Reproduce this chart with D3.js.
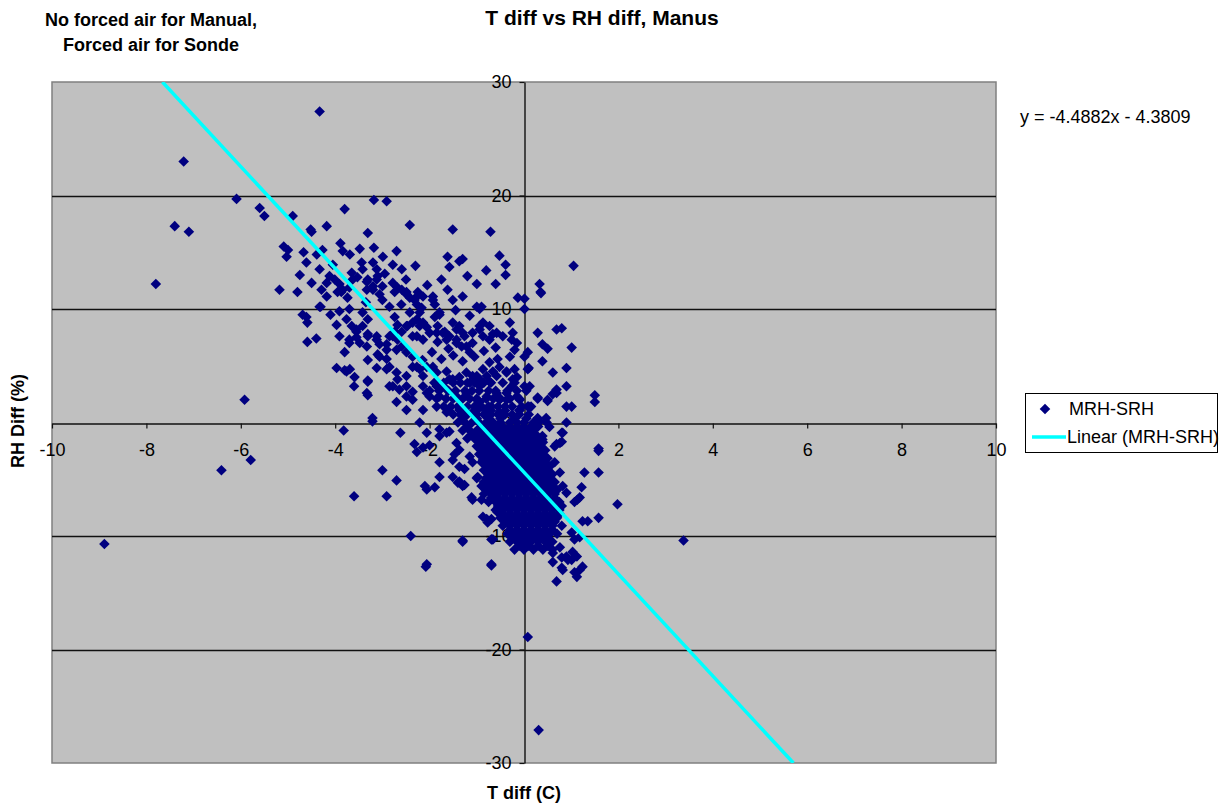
<!DOCTYPE html>
<html>
<head>
<meta charset="utf-8">
<script src="https://cdn.jsdelivr.net/npm/d3@7"></script>
<style>
  body { margin: 0; background: #fff; }
  svg text { font-family: Arial, "Liberation Sans", sans-serif; fill: #000; }
</style>
</head>
<body>
<div id="chart"></div>
<script>
// chart text
const title = "T diff vs RH diff, Manus";
const noteLines = ["No forced air for Manual,", "Forced air for Sonde"];
const xTitle = "T diff (C)";
const yTitle = "RH Diff (%)";
const seriesName = "MRH-SRH";
const trendName = "Linear (MRH-SRH)";

// axis ticks
const xTicks = [-10, -8, -6, -4, -2, 0, 2, 4, 6, 8, 10];
const yTicks = [-30, -20, -10, 0, 10, 20, 30];
const gridValues = [-20, -10, 10, 20];

// trendline y = slope * x + intercept (as printed on the chart)
const slope = -4.4882;
const intercept = -4.3809;

// scattered outliers [T diff, RH diff]
const outlierPoints = [
  [-4.33,27.4],[-7.21,23.0],[-7.4,17.3],[-7.1,16.8],[-7.8,12.2],[-8.89,-10.7],[-6.09,19.7],[-5.6,18.9],
  [-5.5,18.2],[-5.92,2.0],[-6.41,-4.2],[-5.79,-3.3],[-3.82,-0.7],[-3.6,-6.5],[-2.91,-6.5],[-2.4,-10.0],
  [-2.08,-12.7],[-1.3,-10.4],[-0.69,-12.6],[0.08,-18.9],[0.31,-27.1],[3.38,-10.4],[1.05,13.8],[1.5,2.4],
  [1.5,1.8],[1.58,-2.3],[1.98,-7.2],[-3.0,-4.2],[-2.7,-5.1],[-2.62,-0.9],[-2.06,-12.5],[-0.69,-12.5]
];

// upper-left cloud
const upperCloud = [
  [-3.18,19.6],[-2.91,19.5],[-3.8,18.8],[-4.9,18.2],[-4.52,17.0],[-4.5,16.8],[-4.18,17.3],[-3.31,16.7],
  [-2.42,17.4],[-1.51,17.0],[-0.71,16.8],[-5.09,15.5],[-5.0,15.2],[-5.03,14.6],[-4.67,15.0],[-4.61,14.1],
  [-4.27,15.2],[-4.39,14.8],[-3.89,15.8],[-3.84,15.1],[-3.69,14.8],[-3.48,15.3],[-3.18,15.4],[-2.99,14.6],
  [-3.2,14.1],[-2.7,15.1],[-2.78,13.9],[-2.59,13.5],[-2.3,13.8],[-1.62,14.6],[-1.58,13.7],[-1.37,14.2],
  [-1.3,14.4],[-0.52,14.7],[-0.39,13.9],[-0.39,13.0],[-1.0,12.2],[-0.6,12.2],[-5.18,11.7],[-4.8,11.5],
  [-4.33,13.5],[-4.5,12.3],[-4.29,11.7],[-4.18,11.1],[-4.33,10.2],[-4.12,12.9],[-4.01,12.6],[-4.18,12.3],
  [-3.95,11.5],[-3.84,11.7],[-3.74,11.0],[-3.63,12.6],[-3.53,12.8],[-3.31,12.6],[-3.12,13.5],[-3.1,12.9],
  [-3.42,13.5],[-3.44,14.1],[-3.2,11.7],[-3.33,11.7],[-3.06,11.3],[-3.0,12.0],[-2.78,12.3],[-2.74,11.5],
  [-2.59,11.7],[-2.49,11.3],[-2.42,11.0],[-2.32,10.8],[-2.25,11.5],[-2.14,11.1],[-2.27,10.4],[-2.17,10.1],
  [-2.21,9.7],[-1.93,11.1],[-1.89,10.4],[-1.79,9.7],[-1.62,11.7],[-1.51,10.8],[-1.3,11.1],[-1.0,10.2],
  [-0.94,10.0],[-0.9,10.2],[-0.13,11.0],[0.01,10.9],[0.01,10.0],[-3.91,12.2],[-3.87,11.5],[-3.7,11.9],
  [-3.33,12.4],[-3.12,12.6],[-3.2,12.0],[-2.68,11.9],[-2.49,11.5],[-2.27,11.1],[-1.93,10.8],[-3.0,10.8],
  [-2.85,10.2],[0.33,12.2],[0.36,11.4],[-4.05,13.9],[-3.65,13.2],[-2.95,13.1],[-2.5,12.6],[-2.05,12.1],
  [-1.75,12.6],[-1.2,12.9],[-0.8,13.4],[-4.75,13.0],[-3.35,10.6],[-2.6,10.4],[-1.45,9.9],[-1.15,9.4]
];

// middle band between the cloud and the core
const midCloud = [
  [-4.69,9.5],[-4.61,9.3],[-4.59,8.8],[-4.31,10.2],[-4.1,9.5],[-3.97,8.6],[-4.59,7.1],[-4.4,7.4],
  [-3.91,9.8],[-3.7,10.0],[-3.76,9.1],[-3.65,8.5],[-3.55,8.2],[-3.42,9.7],[-3.31,9.1],[-3.55,7.5],
  [-3.31,7.6],[-3.12,7.6],[-3.91,7.6],[-3.7,7.0],[-3.48,7.0],[-3.33,6.7],[-3.31,7.8],[-3.8,6.2],
  [-3.7,7.3],[-3.55,8.0],[-3.42,8.5],[-3.97,4.8],[-3.8,4.6],[-3.69,4.7],[-3.76,4.5],[-3.59,4.0],
  [-3.6,3.2],[-3.31,3.6],[-3.31,2.4],[-3.31,3.7],[-3.31,5.5],[-3.12,4.8],[-3.21,0.4],[-3.21,0.1],
  [-3.33,2.6],[-3.06,6.9],[-2.91,6.4],[-3.1,6.0],[-2.91,5.6],[-3.12,7.3],[-3.06,5.8],[-2.91,6.9],
  [-2.85,4.9],[-2.91,4.7],[-2.74,8.0],[-2.85,7.6],[-2.68,7.3],[-2.7,6.4],[-2.47,8.5],[-2.36,8.8],
  [-2.27,7.6],[-2.14,8.8],[-2.06,8.4],[-1.85,7.9],[-1.72,7.9],[-1.83,7.1],[-1.51,8.8],[-1.37,8.5],
  [-1.58,7.6],[-1.43,7.3],[-1.32,6.7],[-1.26,7.6],[-1.09,7.9],[-0.94,8.5],[-0.87,7.6],[-0.73,7.3],
  [-0.66,7.8],[-0.3,8.8],[-0.24,7.9],[-0.15,7.0],[-0.2,6.4],[0.08,6.2],[0.08,4.7],[-0.2,4.7],
  [-2.74,9.3],[-2.68,8.6],[-2.49,8.5],[-2.59,8.0],[-2.78,7.6],[-2.42,9.7],[-2.27,9.1],[-2.21,8.5],
  [-2.36,7.6],[-2.14,7.3],[-2.0,7.9],[-1.83,8.5],[-1.68,8.0],[-1.79,9.5],[-1.89,9.3],[-2.59,6.7],
  [-2.49,6.2],[-2.36,5.8],[-2.27,4.9],[-2.14,4.1],[-1.93,4.9],[-1.85,4.4],[-1.72,3.2],[-1.58,3.8],
  [-2.68,3.8],[-2.78,3.2],[-2.49,3.2],[-2.36,2.7],[-2.14,3.2],[-2.0,2.3],[-1.79,2.3],[-2.7,4.4],
  [-2.49,4.1],[-2.36,4.9],[-2.21,4.7],[-2.06,4.9],[-1.64,4.5],[-1.51,3.8],[-1.37,4.0],[-1.22,4.4],
  [-1.09,4.1],[-0.94,3.8],[-0.79,4.1],[-0.66,4.5],[-0.52,4.9],[-0.37,4.4],[-0.24,3.8],[-2.85,3.2],
  [-2.64,2.9],[-2.49,2.3],[-2.36,2.0],[-2.06,2.6],[-1.85,3.2],[-1.64,2.9],[-1.43,2.3],[-1.22,2.6],
  [-1.0,2.0],[-0.79,2.3],[-0.58,2.6],[-0.37,2.0],[-0.09,2.0],[0.01,3.2],[-2.7,1.8],[-2.49,1.1],
  [-2.14,1.1],[-1.85,1.4],[-1.64,0.9],[-1.37,1.1],[-1.09,0.9],[-0.79,1.1],[-0.52,0.9],[-0.09,1.1],
  [0.08,1.4],[-1.43,8.2],[-1.3,7.9],[-1.64,7.3],[-1.43,7.0],[-1.22,6.7],[-1.09,7.0],[-0.94,8.2],
  [-0.87,8.8],[-0.73,8.5],[-0.58,7.9],[-0.45,7.6],[-0.26,7.3],[-0.3,5.8],[-0.56,5.6],[-0.73,5.3],
  [-0.87,4.7],[-1.0,4.1],[-1.15,3.5],[-0.94,3.2],[-0.73,3.6],[-0.58,4.1],[-0.37,4.5],[-0.15,4.0],
  [-0.26,3.2],[-0.37,2.6],[-0.15,2.3],[-0.52,2.0],[-0.69,1.4],[-0.94,1.8],[-1.75,5.6],[-1.5,5.9],
  [-1.3,5.4],[-1.05,5.8],[-0.85,6.3],[-0.6,6.6],[-1.95,6.2],[-2.15,5.5],[-1.6,6.5],[-1.15,6.2]
];

// points left of the dense core
const leftOfCore = [
  [-1.64,-0.9],[-1.43,-1.8],[-1.37,-2.4],[-1.51,-3.3],[-1.47,-2.8],[-1.15,-3.0],[-1.09,-3.5],[-0.87,-3.3],
  [-0.79,-4.1],[-0.98,-4.8],[-1.11,-6.6],[-0.9,-6.8],[-0.87,-8.3],[-0.77,-8.8],[-0.69,-8.5],[-0.56,-7.9],
  [-0.47,-7.4],[-0.58,-6.5],[-0.69,-10.3],[-1.3,-10.5],[-1.79,-0.6],[-2.06,-0.9],[-2.21,0.0],[-2.1,-5.6],
  [-1.89,-5.7],[-1.79,-4.8],[-1.51,-4.8],[-1.4,-5.3],[-1.3,-5.6],[-1.37,-3.9],[-1.26,-4.1],[-2.32,-1.9],
  [-2.27,-2.6],[-1.79,-1.2],[-1.58,-0.8],[-2.06,-5.9],[-1.79,-3.5],[-1.37,-5.2],[-1.26,-5.5],[-1.09,-6.8],
  [-0.79,-8.5],[-0.66,-10.3],[-2.14,-2.2],[-2.0,-2.0]
];

// points right of the y axis
const rightSide = [
  [0.29,7.9],[0.69,8.2],[0.8,8.3],[1.01,6.6],[0.39,6.9],[0.5,6.5],[0.01,5.8],[0.39,5.4],
  [0.1,4.8],[0.61,4.4],[0.9,4.8],[0.9,3.2],[0.69,2.9],[0.61,2.5],[0.5,2.0],[0.29,2.1],
  [0.1,1.4],[0.9,1.4],[1.01,1.4],[0.29,0.4],[0.47,0.4],[0.54,-0.4],[0.9,0.0],[0.8,-0.9],
  [0.39,-1.2],[0.65,-2.1],[0.76,-1.8],[1.58,-2.5],[1.28,-4.4],[1.58,-4.4],[1.22,-5.7],[1.13,-6.8],
  [1.58,-8.4],[1.35,-8.7],[1.24,-8.7],[0.82,-5.6],[0.9,-6.2],[0.76,-4.4],[0.65,-3.5],[1.01,-9.7],
  [1.07,-10.3],[1.18,-10.1],[0.8,-11.9],[0.9,-11.8],[1.01,-12.1],[0.8,-12.8],[1.07,-13.2],[1.12,-13.6],
  [1.18,-13.0],[0.69,-14.0],[0.61,-12.3],[0.12,3.2],[0.29,2.2],[0.5,1.9],[0.69,2.6],[0.33,0.1],
  [0.48,0.0],[0.82,-0.9],[0.8,-1.7],[0.69,-1.9],[0.39,-1.5],[1.07,-7.0],[1.18,-6.6],[1.03,-11.4],
  [1.12,-11.8],[0.93,-12.1],[0.82,-13.0],[1.24,-12.7],[0.61,-11.5],[0.76,-11.0],[0.35,11.5]
];

// dense core, read row by row: [RH diff, [T diff values]]
const coreRows = [
  [3.5,  [-1.9,-1.7,-1.5,-1.35,-1.2,-1.05,-0.85,-0.7,-0.45,-0.2]],
  [2.8,  [-2.0,-1.8,-1.6,-1.45,-1.25,-1.1,-0.95,-0.75,-0.6,-0.35,-0.15,0.05]],
  [2.1,  [-1.85,-1.65,-1.5,-1.3,-1.15,-1.0,-0.8,-0.65,-0.5,-0.3,-0.1]],
  [1.4,  [-1.7,-1.55,-1.4,-1.2,-1.05,-0.9,-0.75,-0.55,-0.4,-0.25,-0.05,0.15]],
  [1.05, [-1.6,-1.3,-1.0,-0.7,-0.4,-0.1]],
  [0.7,  [-1.5,-1.35,-1.2,-1.0,-0.85,-0.7,-0.55,-0.4,-0.25,-0.1,0.1]],
  [0.35, [-1.3,-1.0,-0.75,-0.5,-0.2,0.05]],
  [0.0,  [-1.4,-1.25,-1.1,-0.95,-0.8,-0.65,-0.5,-0.3,-0.15,0.0,0.2]],
  [-0.35,[-1.2,-0.9,-0.75,-0.6,-0.45,-0.3,-0.15,0.0,0.15,0.3]],
  [-0.7, [-1.3,-1.15,-1.0,-0.85,-0.7,-0.55,-0.4,-0.25,-0.1,0.05,0.2]],
  [-1.05,[-1.1,-0.95,-0.8,-0.65,-0.5,-0.35,-0.2,-0.05,0.1,0.25]],
  [-1.4, [-1.2,-1.05,-0.9,-0.75,-0.6,-0.45,-0.3,-0.15,0.0,0.15,0.3]],
  [-1.75,[-0.95,-0.8,-0.65,-0.5,-0.35,-0.2,-0.05,0.1,0.25,0.4]],
  [-2.1, [-1.0,-0.85,-0.7,-0.55,-0.4,-0.25,-0.1,0.05,0.2,0.35]],
  [-2.45,[-0.9,-0.75,-0.6,-0.45,-0.3,-0.15,0.0,0.15,0.3,0.45]],
  [-2.8, [-0.95,-0.8,-0.65,-0.5,-0.35,-0.2,-0.05,0.1,0.25,0.4]],
  [-3.15,[-0.85,-0.7,-0.55,-0.4,-0.25,-0.1,0.05,0.2,0.35,0.5]],
  [-3.5, [-0.9,-0.75,-0.6,-0.45,-0.3,-0.15,0.0,0.15,0.3,0.45]],
  [-3.85,[-0.8,-0.65,-0.5,-0.35,-0.2,-0.05,0.1,0.25,0.4,0.55]],
  [-4.2, [-0.85,-0.7,-0.55,-0.4,-0.25,-0.1,0.05,0.2,0.35,0.5]],
  [-4.55,[-0.75,-0.6,-0.45,-0.3,-0.15,0.0,0.15,0.3,0.45,0.6]],
  [-4.9, [-1.0,-0.8,-0.65,-0.5,-0.35,-0.2,-0.05,0.1,0.25,0.4,0.55]],
  [-5.25,[-0.85,-0.7,-0.55,-0.4,-0.25,-0.1,0.05,0.2,0.35,0.5,0.65]],
  [-5.6, [-0.9,-0.75,-0.6,-0.45,-0.3,-0.15,0.0,0.15,0.3,0.45,0.6]],
  [-5.95,[-0.8,-0.65,-0.5,-0.35,-0.2,-0.05,0.1,0.25,0.4,0.55,0.7]],
  [-6.3, [-0.85,-0.7,-0.55,-0.4,-0.25,-0.1,0.05,0.2,0.35,0.5,0.65]],
  [-6.65,[-0.7,-0.55,-0.4,-0.25,-0.1,0.05,0.2,0.35,0.5,0.65]],
  [-7.0, [-0.75,-0.6,-0.45,-0.3,-0.15,0.0,0.15,0.3,0.45,0.6,0.75]],
  [-7.35,[-0.55,-0.4,-0.25,-0.1,0.05,0.2,0.35,0.5,0.65,0.8]],
  [-7.7, [-0.6,-0.45,-0.3,-0.15,0.0,0.15,0.3,0.45,0.6,0.75]],
  [-8.05,[-0.45,-0.3,-0.15,0.0,0.15,0.3,0.45,0.6,0.75]],
  [-8.4, [-0.5,-0.35,-0.2,-0.05,0.1,0.25,0.4,0.55,0.7]],
  [-8.75,[-0.4,-0.25,-0.1,0.05,0.2,0.35,0.5,0.65]],
  [-9.1, [-0.45,-0.3,-0.15,0.0,0.15,0.3,0.45,0.6,0.8]],
  [-9.45,[-0.3,-0.15,0.0,0.15,0.3,0.45,0.6]],
  [-9.8, [-0.35,-0.2,-0.05,0.1,0.25,0.4,0.55,0.7]],
  [-10.15,[-0.25,-0.1,0.05,0.2,0.35,0.5]],
  [-10.5,[-0.3,-0.15,0.0,0.15,0.3,0.45,0.6]],
  [-10.85,[-0.1,0.1,0.3,0.5]],
  [-11.2,[-0.2,0.0,0.2,0.4,0.6]]
];

const corePoints = coreRows.flatMap(([rh, ts]) => ts.map(t => [t, rh]));
const allPoints = [].concat(outlierPoints, upperCloud, midCloud, leftOfCore, rightSide, corePoints);

const width = 1227, height = 803;
const plot = { left: 52, right: 996, top: 82, bottom: 763 };
const fontSize = 18;

const x = d3.scaleLinear().domain([-10, 10]).range([plot.left, plot.right]);
const y = d3.scaleLinear().domain([-30, 30]).range([plot.bottom, plot.top]);

const svg = d3.select('#chart').append('svg')
  .attr('width', width)
  .attr('height', height)
  .style('background', '#fff');

svg.append('defs').append('clipPath').attr('id', 'plotClip')
  .append('rect')
  .attr('x', plot.left).attr('y', plot.top)
  .attr('width', plot.right - plot.left).attr('height', plot.bottom - plot.top);

// plot area
svg.append('rect')
  .attr('x', plot.left).attr('y', plot.top)
  .attr('width', plot.right - plot.left).attr('height', plot.bottom - plot.top)
  .attr('fill', '#c0c0c0')
  .attr('stroke', '#808080')
  .attr('stroke-width', 1.5);

// horizontal gridlines
svg.append('g').selectAll('line')
  .data(gridValues)
  .join('line')
  .attr('x1', plot.left).attr('x2', plot.right)
  .attr('y1', d => Math.round(y(d)) + 0.5).attr('y2', d => Math.round(y(d)) + 0.5)
  .attr('stroke', '#111')
  .attr('stroke-width', 1.4);

// x axis crossing at RH = 0
const xAxis = d3.axisBottom(x)
  .tickValues(xTicks)
  .tickSize(5)
  .tickSizeOuter(0)
  .tickFormat(d => String(d));

svg.append('g')
  .attr('transform', `translate(0,${Math.round(y(0)) + 0.5})`)
  .call(xAxis)
  .call(g => g.select('.domain').attr('stroke', '#111').attr('stroke-width', 1.4))
  .call(g => g.selectAll('.tick line').attr('stroke', '#111').attr('stroke-width', 1.2))
  .call(g => g.selectAll('text')
    .attr('font-size', fontSize)
    .attr('font-family', 'Arial, "Liberation Sans", sans-serif')
    .attr('y', 20));

// y axis crossing at T = 0
const yAxis = d3.axisLeft(y)
  .tickValues(yTicks)
  .tickSize(5)
  .tickSizeOuter(0)
  .tickFormat(d => String(d));

svg.append('g')
  .attr('transform', `translate(${Math.round(x(0)) + 0.5},0)`)
  .call(yAxis)
  .call(g => g.select('.domain').attr('stroke', '#111').attr('stroke-width', 1.4))
  .call(g => g.selectAll('.tick line').attr('stroke', '#111').attr('stroke-width', 1.2))
  .call(g => g.selectAll('text')
    .attr('font-size', fontSize)
    .attr('font-family', 'Arial, "Liberation Sans", sans-serif')
    .attr('x', -13));

// scatter points
const diamond = d3.symbol().type(d3.symbolSquare).size(56);
svg.append('g')
  .attr('clip-path', 'url(#plotClip)')
  .selectAll('path')
  .data(allPoints)
  .join('path')
  .attr('d', diamond)
  .attr('transform', d => `translate(${x(d[0])},${y(d[1])}) rotate(45)`)
  .attr('fill', '#000080');

// linear trendline
const trendEnds = [(30 - intercept) / slope, (-30 - intercept) / slope];
const line = d3.line()
  .x(d => x(d))
  .y(d => y(slope * d + intercept));

svg.append('path')
  .datum(trendEnds)
  .attr('clip-path', 'url(#plotClip)')
  .attr('d', line)
  .attr('fill', 'none')
  .attr('stroke', '#00ffff')
  .attr('stroke-width', 3.5);

// titles
svg.append('text')
  .attr('x', 602).attr('y', 25)
  .attr('text-anchor', 'middle')
  .attr('font-size', 21)
  .attr('font-weight', 'bold')
  .text(title);

svg.append('g').selectAll('text')
  .data(noteLines)
  .join('text')
  .attr('x', 151)
  .attr('y', (d, i) => 26 + i * 25)
  .attr('text-anchor', 'middle')
  .attr('font-size', fontSize)
  .attr('font-weight', 'bold')
  .text(d => d);

svg.append('text')
  .attr('x', 524).attr('y', 799)
  .attr('text-anchor', 'middle')
  .attr('font-size', fontSize)
  .attr('font-weight', 'bold')
  .text(xTitle);

svg.append('text')
  .attr('transform', 'translate(24,421) rotate(-90)')
  .attr('text-anchor', 'middle')
  .attr('font-size', fontSize)
  .attr('font-weight', 'bold')
  .text(yTitle);

// trendline equation
svg.append('text')
  .attr('x', 1020).attr('y', 123)
  .attr('font-size', fontSize)
  .text(`y = ${slope}x - ${Math.abs(intercept)}`);

// legend
const legend = svg.append('g').attr('transform', 'translate(1025,393)');
legend.append('rect')
  .attr('x', 0.5).attr('y', 0.5)
  .attr('width', 192).attr('height', 59)
  .attr('fill', '#fff')
  .attr('stroke', '#000');
legend.append('path')
  .attr('d', diamond)
  .attr('transform', 'translate(20,16) rotate(45)')
  .attr('fill', '#000080');
legend.append('text')
  .attr('x', 44).attr('y', 16)
  .attr('dy', '0.35em')
  .attr('font-size', fontSize)
  .text(seriesName);
legend.append('line')
  .attr('x1', 7).attr('x2', 41)
  .attr('y1', 44).attr('y2', 44)
  .attr('stroke', '#00ffff')
  .attr('stroke-width', 3.5);
legend.append('text')
  .attr('x', 42).attr('y', 44)
  .attr('dy', '0.35em')
  .attr('font-size', fontSize)
  .text(trendName);
</script>
</body>
</html>
